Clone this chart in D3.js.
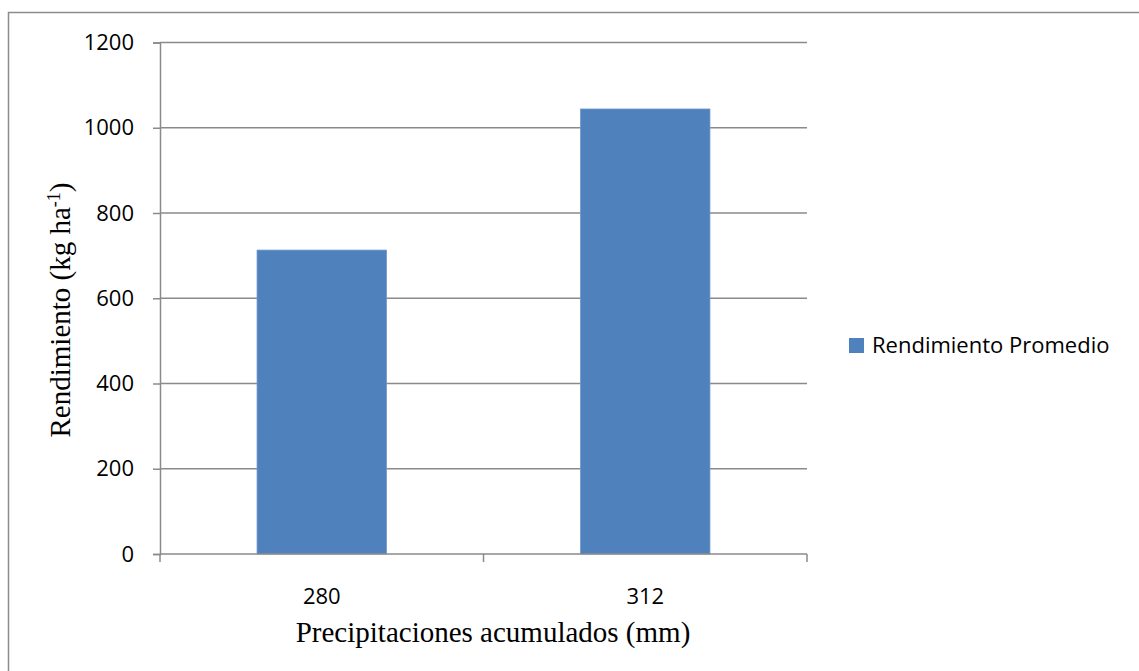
<!DOCTYPE html>
<html>
<head>
<meta charset="utf-8">
<script src="https://cdn.jsdelivr.net/npm/d3@7"></script>
<style>
  body { margin: 0; background: #fff; }
</style>
</head>
<body>
<div id="chart"></div>
<script>
const categories = ['280', '312']
const values = [713, 1044]
const yTicks = [0, 200, 400, 600, 800, 1000, 1200]
const seriesName = 'Rendimiento Promedio'

const width = 1139
const height = 671
const margin = { top: 42.5, left: 160, right: 332, bottom: 117 }
const barColor = '#4f81bd'
const gridColor = '#8a8a8a'
const tickFont = "'Open Sans', sans-serif"
const titleFont = "'Liberation Serif', 'Times New Roman', serif"

const svg = d3.select('#chart').append('svg')
  .attr('width', width)
  .attr('height', height)

// chart frame (only top/left edges show in the picture)
svg.append('rect')
  .attr('x', 8.5).attr('y', 12.5)
  .attr('width', width + 10).attr('height', height + 10)
  .attr('fill', 'none')
  .attr('stroke', '#8c8c8c')
  .attr('stroke-width', 1.5)

const x = d3.scaleBand()
  .domain(categories)
  .range([margin.left, width - margin.right])
  .paddingInner(0.6)
  .paddingOuter(0.3)

const y = d3.scaleLinear()
  .domain([0, 1200])
  .range([height - margin.bottom, margin.top])

// gridlines
svg.append('g')
  .selectAll('line')
  .data(yTicks.filter(d => d > 0))
  .enter().append('line')
  .attr('x1', margin.left)
  .attr('x2', width - margin.right)
  .attr('y1', d => y(d))
  .attr('y2', d => y(d))
  .attr('stroke', gridColor)
  .attr('stroke-width', 1.5)

// bars
svg.append('g')
  .selectAll('rect')
  .data(values)
  .enter().append('rect')
  .attr('x', (d, i) => x(categories[i]))
  .attr('y', d => y(d))
  .attr('width', x.bandwidth())
  .attr('height', d => y(0) - y(d))
  .attr('fill', barColor)
  .attr('stroke', '#6f97cb')
  .attr('stroke-width', 0.8)

// y axis
const yAxis = svg.append('g')
  .attr('transform', 'translate(' + margin.left + ',0)')
  .call(d3.axisLeft(y).tickValues(yTicks).tickFormat(d3.format('d')).tickSize(7).tickPadding(19))
yAxis.select('.domain').attr('stroke', gridColor).attr('stroke-width', 1.5)
yAxis.selectAll('.tick line').attr('stroke', gridColor).attr('stroke-width', 1.5)
yAxis.selectAll('text')
  .attr('font-family', tickFont)
  .attr('font-size', 22)
  .attr('fill', '#000')

// x axis: ticks at band edges like Excel
const xAxisG = svg.append('g')
  .attr('transform', 'translate(0,' + y(0) + ')')
xAxisG.append('line')
  .attr('x1', margin.left).attr('x2', width - margin.right)
  .attr('stroke', gridColor).attr('stroke-width', 1.5)
const edges = [margin.left, (margin.left + width - margin.right) / 2, width - margin.right]
xAxisG.selectAll('.edge')
  .data(edges)
  .enter().append('line')
  .attr('class', 'edge')
  .attr('x1', d => d).attr('x2', d => d)
  .attr('y1', 0).attr('y2', 8)
  .attr('stroke', gridColor).attr('stroke-width', 1.5)
xAxisG.selectAll('text')
  .data(categories)
  .enter().append('text')
  .attr('x', d => x(d) + x.bandwidth() / 2)
  .attr('y', 50)
  .attr('text-anchor', 'middle')
  .attr('font-family', tickFont)
  .attr('font-size', 22)
  .text(d => d)

// axis titles
svg.append('text')
  .attr('x', 493)
  .attr('y', 642)
  .attr('text-anchor', 'middle')
  .attr('font-family', titleFont)
  .attr('font-size', 29)
  .text('Precipitaciones acumulados (mm)')

const yTitle = svg.append('text')
  .attr('transform', 'translate(70,' + 310 + ') rotate(-90)')
  .attr('text-anchor', 'middle')
  .attr('font-family', titleFont)
  .attr('font-size', 29)
yTitle.append('tspan').text('Rendimiento (kg ha')
yTitle.append('tspan').attr('dy', -10).attr('font-size', 18).text('-1')
yTitle.append('tspan').attr('dy', 10).text(')')

// legend
const legend = svg.append('g').attr('transform', 'translate(849,338)')
legend.append('rect')
  .attr('width', 15).attr('height', 15)
  .attr('fill', barColor)
legend.append('text')
  .attr('x', 23)
  .attr('y', 15)
  .attr('font-family', tickFont)
  .attr('font-size', 22)
  .text(seriesName)
</script>
</body>
</html>
